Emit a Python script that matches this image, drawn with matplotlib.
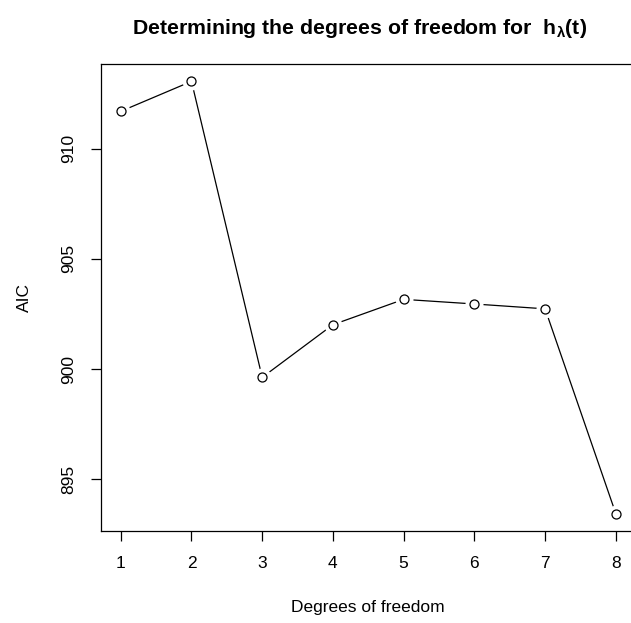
import matplotlib.pyplot as plt

plt.rcParams["font.family"] = ["Liberation Sans", "DejaVu Sans"]
plt.rcParams["mathtext.fontset"] = "custom"
plt.rcParams["mathtext.rm"] = "Liberation Sans"
plt.rcParams["mathtext.bf"] = "Liberation Sans:bold"
plt.rcParams["mathtext.it"] = "Liberation Sans:italic"

# degrees of freedom vs AIC
df = [1, 2, 3, 4, 5, 6, 7, 8]
aic = [911.69, 913.05, 899.62, 902.01, 903.16, 902.95, 902.73, 893.44]
yticks = [895, 900, 905, 910]

fig = plt.figure(figsize=(6.31, 6.23), dpi=100)
ax = fig.add_axes([0.160, 0.148, 0.8473, 0.749])

# R's type="b": line with gaps around the open circles
ax.plot(df, aic, color="black", lw=0.9, zorder=1)
ax.plot(df, aic, "o", ms=13, mfc="white", mec="none", zorder=2)
ax.plot(df, aic, "o", ms=6.5, mfc="white", mec="black", mew=0.9, zorder=3)

ax.set_xlim(0.72, 8.28)
ax.set_ylim(892.66, 913.83)
ax.set_xticks(df)
ax.set_yticks(yticks)
ax.set_yticklabels([str(v) for v in yticks], rotation=90, va="center")
ax.tick_params(direction="out", length=7, width=0.9, labelsize=12.5, pad=11)
for s in ax.spines.values():
    s.set_linewidth(0.9)
ax.spines["right"].set_visible(False)

ax.set_xlabel("Degrees of freedom", fontsize=12.5, labelpad=21)
ax.set_ylabel("AIC", fontsize=12.5, labelpad=21)
fig.text(0.569, 0.955, r"Determining the degrees of freedom for  $\mathbf{h_{\lambda}(t)}$",
         ha="center", va="center", fontsize=15.3, fontweight="bold")

fig.savefig("out.png", dpi=100)
